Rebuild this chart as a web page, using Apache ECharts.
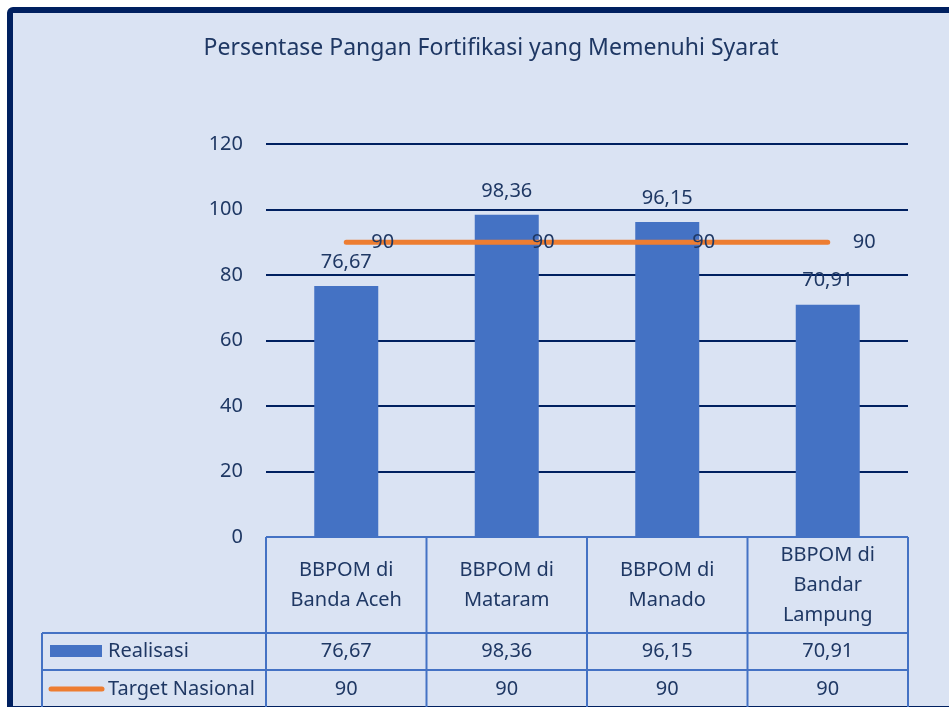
<!DOCTYPE html>
<html>
<head>
<meta charset="utf-8">
<script src="https://cdn.jsdelivr.net/npm/echarts@6/dist/echarts.min.js"></script>
<style>
  html, body { margin: 0; padding: 0; background: #fff; }
  #chart { width: 949px; height: 707px; }
</style>
</head>
<body>
<div id="chart"></div>
<script>
const titleText = "Persentase Pangan Fortifikasi yang Memenuhi Syarat";
const categories = ["BBPOM di\nBanda Aceh", "BBPOM di\nMataram", "BBPOM di\nManado", "BBPOM di\nBandar\nLampung"];
const realisasi = [76.67, 98.36, 96.15, 70.91];
const target = [90, 90, 90, 90];
const seriesNames = ["Realisasi", "Target Nasional"];

const FONT = '"Noto Sans", sans-serif';
const TEXT = "#1f3864";
const BLUE = "#4472c4";
const ORANGE = "#ed7d31";

// layout of the plot area and data table
const gridLeft = 266, gridRight = 908, gridTop = 144, gridBottom = 537;
const tableLeft = 42;
const rowY = [537, 633, 670, 720];

const fmt = v => String(v).replace(".", ",");

const chart = echarts.init(document.getElementById("chart"));

function tableGraphics() {
  const g = [];
  const colW = (gridRight - gridLeft) / categories.length;
  const line = (x1, y1, x2, y2) => g.push({
    type: "line", z: 5,
    shape: { x1, y1, x2, y2 },
    style: { stroke: BLUE, lineWidth: 2 }
  });
  // horizontal rules
  line(gridLeft, rowY[0], gridRight, rowY[0]);
  line(tableLeft, rowY[1], gridRight, rowY[1]);
  line(tableLeft, rowY[2], gridRight, rowY[2]);
  // vertical rules
  line(tableLeft, rowY[1], tableLeft, rowY[3]);
  for (let i = 0; i <= categories.length; i++) {
    const x = gridLeft + i * colW;
    line(x, rowY[0], x, rowY[3]);
  }
  // values
  const rows = [realisasi, target];
  const rowCenter = [651, 689];
  rows.forEach((vals, r) => {
    vals.forEach((v, i) => {
      g.push({
        type: "text", z: 6,
        x: gridLeft + (i + 0.5) * colW, y: rowCenter[r],
        style: { text: fmt(v), fill: TEXT, font: "20px " + FONT, align: "center", verticalAlign: "middle" }
      });
    });
    g.push({
      type: "text", z: 6,
      x: 108, y: rowCenter[r],
      style: { text: seriesNames[r], fill: TEXT, font: "20px " + FONT, align: "left", verticalAlign: "middle" }
    });
  });
  // legend keys
  g.push({ type: "rect", z: 6, shape: { x: 50, y: 645, width: 52, height: 12 }, style: { fill: BLUE } });
  g.push({ type: "line", z: 6, shape: { x1: 51, y1: 689, x2: 102, y2: 689 }, style: { stroke: ORANGE, lineWidth: 5, lineCap: "round" } });
  return g;
}

const option = {
  backgroundColor: "#ffffff",
  animation: false,
  title: {
    text: titleText,
    left: 486,
    textAlign: "center",
    top: 32,
    textStyle: { color: TEXT, fontFamily: FONT, fontSize: 23, fontWeight: "normal" }
  },
  grid: { left: gridLeft, right: 949 - gridRight, top: gridTop, bottom: 707 - gridBottom, containLabel: false },
  xAxis: {
    type: "category",
    data: categories,
    axisLine: { show: false },
    axisTick: { show: false },
    axisLabel: {
      color: TEXT, fontFamily: FONT, fontSize: 20, lineHeight: 30,
      interval: 0, verticalAlign: "middle", margin: 48
    }
  },
  yAxis: {
    type: "value",
    min: 0, max: 120, interval: 20,
    axisLine: { show: false },
    axisTick: { show: false },
    axisLabel: { color: TEXT, fontFamily: FONT, fontSize: 20, margin: 23 },
    splitLine: { lineStyle: { color: "#002060", width: 2 } }
  },
  graphic: [
    {
      type: "rect", z: -10, silent: true,
      shape: { x: 10, y: 10, width: 1000, height: 699, r: 3 },
      style: { fill: "#dae3f3", stroke: "#002060", lineWidth: 6 }
    }
  ].concat(tableGraphics()),
  series: [
    {
      name: seriesNames[0],
      type: "bar",
      data: realisasi,
      barWidth: 64,
      itemStyle: { color: BLUE },
      z: 3,
      label: {
        show: true, position: "top", distance: 14,
        color: TEXT, fontFamily: FONT, fontSize: 20,
        formatter: p => fmt(p.value)
      }
    },
    {
      name: seriesNames[1],
      type: "line",
      data: target,
      symbol: "circle",
      symbolSize: 2,
      showSymbol: true,
      itemStyle: { color: "rgba(0,0,0,0)", borderWidth: 0 },
      z: 4,
      lineStyle: { color: ORANGE, width: 5, cap: "round" },
      label: {
        show: true, position: "right", distance: 24,
        color: TEXT, fontFamily: FONT, fontSize: 20,
        formatter: p => fmt(p.value)
      }
    }
  ]
};

chart.setOption(option);
</script>
</body>
</html>
